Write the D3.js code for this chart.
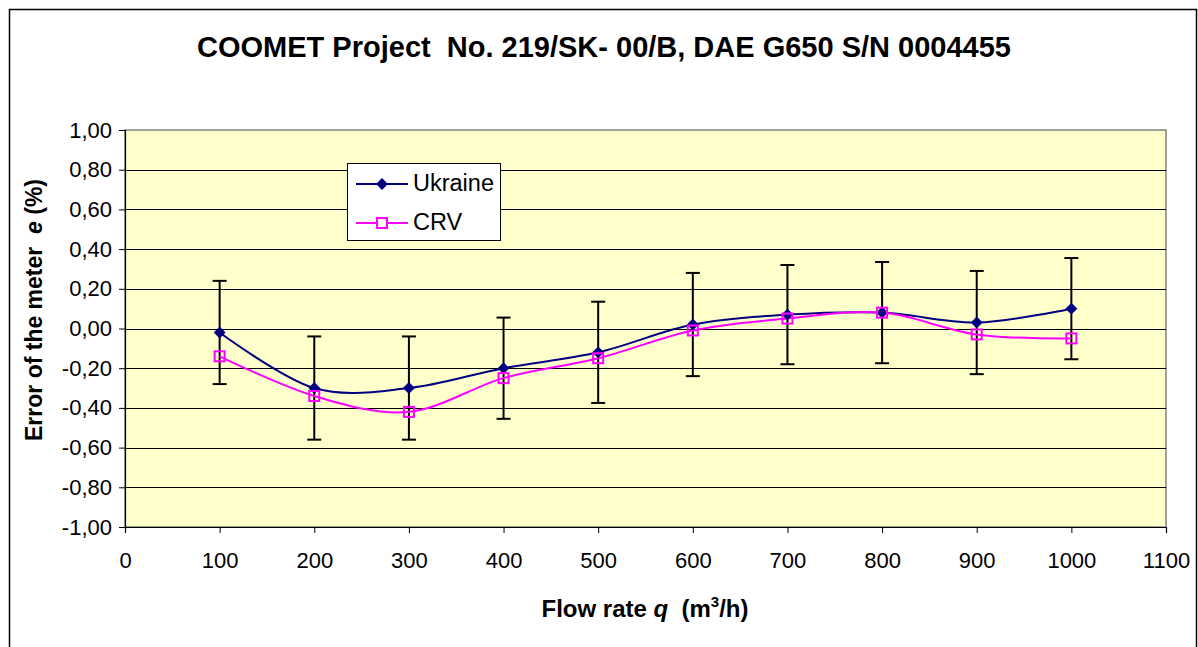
<!DOCTYPE html>
<html><head><meta charset="utf-8">
<script src="https://cdn.jsdelivr.net/npm/d3@7"></script>
<style>body{margin:0;background:#fff;} text{font-family:"Liberation Sans",Arial,sans-serif;}</style>
</head><body>
<svg id="c" width="1198" height="647"></svg>
<script>
const flowRates = [100,200,300,400,500,600,700,800,900,1000];
const ukraine = [-0.02,-0.30,-0.30,-0.20,-0.12,0.02,0.07,0.08,0.03,0.10];
const crv = [-0.14,-0.34,-0.42,-0.25,-0.15,-0.01,0.05,0.08,-0.03,-0.05];
const uncertainty = [0.26,0.26,0.26,0.255,0.255,0.26,0.25,0.255,0.26,0.255];
const xTicks = [0,100,200,300,400,500,600,700,800,900,1000,1100];
const yTicks = [-1,-0.8,-0.6,-0.4,-0.2,0,0.2,0.4,0.6,0.8,1];
const seriesNames = ["Ukraine","CRV"];

const svg = d3.select("#c");
const L=125, R=1166, T=130, B=527;
const x = d3.scaleLinear().domain([0,1100]).range([L,R]);
const y = d3.scaleLinear().domain([-1,1]).range([B,T]);
const fmt = v => d3.format(".2f")(v).replace(".", ",").replace("−","-");

// outer border
svg.append("rect").attr("x",9.5).attr("y",9.5).attr("width",1187).attr("height",700)
  .attr("fill","#fff").attr("stroke","#000").attr("stroke-width",1.5);

// plot bg
svg.append("rect").attr("x",L).attr("y",T).attr("width",R-L).attr("height",B-T)
  .attr("fill","#FFFFCC").attr("stroke","#808080").attr("stroke-width",1.5);

// gridlines
svg.append("g").selectAll("line").data(yTicks.filter(v=>v>-1&&v<1)).join("line")
  .attr("x1",L).attr("x2",R).attr("y1",d=>Math.round(y(d))+0.5).attr("y2",d=>Math.round(y(d))+0.5)
  .attr("stroke","#000").attr("stroke-width",1);

// axes
const yAxis = svg.append("g").attr("transform",`translate(${L},0)`)
  .call(d3.axisLeft(y).tickValues(yTicks).tickFormat(fmt).tickSize(6).tickPadding(7));
const xAxis = svg.append("g").attr("transform",`translate(0,${B})`)
  .call(d3.axisBottom(x).tickValues(xTicks).tickFormat(d3.format("d")).tickSize(6).tickPadding(19));
[yAxis,xAxis].forEach(a=>{
  a.select(".domain").attr("stroke","#000").attr("stroke-width",1.2);
  a.selectAll(".tick line").attr("stroke","#000");
  a.selectAll("text").attr("font-size",22).attr("fill","#000").attr("font-family","Liberation Sans, Arial, sans-serif");
});

// error bars
const eb = svg.append("g");
flowRates.forEach((q,i)=>{
  const cx=x(q), y1=y(ukraine[i]+uncertainty[i]), y2=y(ukraine[i]-uncertainty[i]);
  eb.append("line").attr("x1",cx).attr("x2",cx).attr("y1",y1).attr("y2",y2).attr("stroke","#000").attr("stroke-width",2);
  [y1,y2].forEach(yy=>eb.append("line").attr("x1",cx-7).attr("x2",cx+7).attr("y1",yy).attr("y2",yy).attr("stroke","#000").attr("stroke-width",2));
});

const line = d3.line().curve(d3.curveCardinal.tension(0)).x(d=>x(d[0])).y(d=>y(d[1]));
const uData = flowRates.map((q,i)=>[q,ukraine[i]]);
const cData = flowRates.map((q,i)=>[q,crv[i]]);

svg.append("path").attr("d",line(uData)).attr("fill","none").attr("stroke","#000080").attr("stroke-width",2);
svg.append("path").attr("d",line(cData)).attr("fill","none").attr("stroke","#FF00FF").attr("stroke-width",2);

const diamond = d3.symbol().type(d3.symbolDiamond2).size(90);
svg.append("g").selectAll("path").data(uData).join("path")
  .attr("d",diamond).attr("transform",d=>`translate(${x(d[0])},${y(d[1])})`)
  .attr("fill","#000080");
svg.append("g").selectAll("rect").data(cData).join("rect")
  .attr("x",d=>x(d[0])-5).attr("y",d=>y(d[1])-5).attr("width",10).attr("height",10)
  .attr("fill","none").attr("stroke","#FF00FF").attr("stroke-width",2);

// legend
const lg = svg.append("g");
lg.append("rect").attr("x",347.5).attr("y",163.5).attr("width",153).attr("height",77)
  .attr("fill","#fff").attr("stroke","#000").attr("stroke-width",1);
lg.append("line").attr("x1",356).attr("x2",408).attr("y1",184).attr("y2",184).attr("stroke","#000080").attr("stroke-width",2);
lg.append("path").attr("d",diamond).attr("transform","translate(382,184)").attr("fill","#000080");
lg.append("line").attr("x1",356).attr("x2",408).attr("y1",223).attr("y2",223).attr("stroke","#FF00FF").attr("stroke-width",2);
lg.append("rect").attr("x",377).attr("y",218).attr("width",10).attr("height",10).attr("fill","#fff").attr("stroke","#FF00FF").attr("stroke-width",2);
lg.append("text").attr("x",413).attr("y",191).attr("font-size",23.5).text(seriesNames[0]);
lg.append("text").attr("x",413).attr("y",230).attr("font-size",23.5).text(seriesNames[1]);

// title
svg.append("text").attr("x",604).attr("y",57).attr("text-anchor","middle").attr("font-size",29)
  .attr("font-weight","bold").attr("xml:space","preserve").text("COOMET Project  No. 219/SK- 00/B, DAE G650 S/N 0004455");

// x title
const xt = svg.append("text").attr("x",645).attr("y",617).attr("text-anchor","middle").attr("font-size",24)
  .attr("font-weight","bold").attr("xml:space","preserve");
xt.append("tspan").text("Flow rate ");
xt.append("tspan").attr("font-style","italic").text("q");
xt.append("tspan").text("  (m");
xt.append("tspan").attr("font-size",15).attr("dy",-10).text("3");
xt.append("tspan").attr("dy",10).text("/h)");

// y title
const yt = svg.append("text").attr("transform","translate(42,310) rotate(-90)").attr("text-anchor","middle")
  .attr("font-size",23).attr("font-weight","bold").attr("xml:space","preserve");
yt.append("tspan").text("Error of the meter  ");
yt.append("tspan").attr("font-style","italic").text("e");
yt.append("tspan").text(" (%)");
</script>
</body></html>
